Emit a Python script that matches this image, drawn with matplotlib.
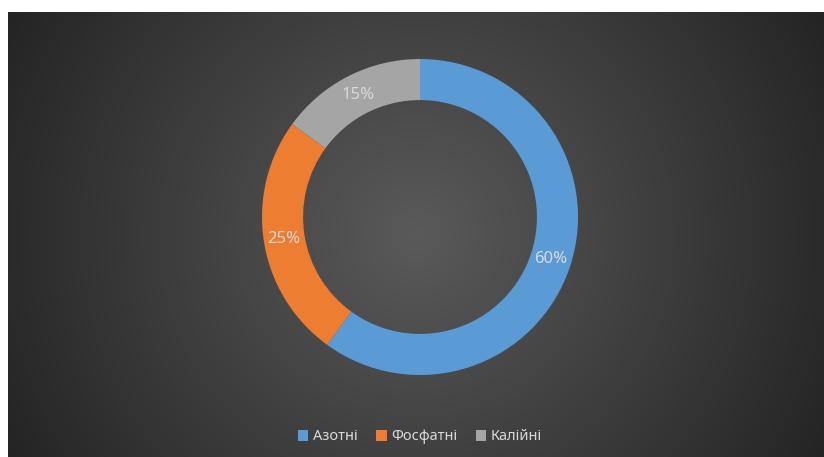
import numpy as np
import matplotlib
matplotlib.use('Agg')
import matplotlib.pyplot as plt

plt.rcParams['font.family'] = ['Noto Sans', 'DejaVu Sans']

# Chart data
categories = ['Азотні', 'Фосфатні', 'Калійні']
shares = [60, 25, 15]
colors = ['#5b9bd5', '#ed7d31', '#a5a5a5']

W, H = 824, 457
fig = plt.figure(figsize=(W / 100, H / 100), dpi=100, facecolor='white')

# Dark radial gradient background panel.
bg = fig.add_axes([8 / W, 0, (W - 8) / W, (H - 12) / H])
bw, bh = W - 8, H - 12
yy, xx = np.mgrid[0:bh, 0:bw]
r = np.hypot(xx - bw / 2, yy - bh / 2) / np.hypot(bw / 2, bh / 2)
shade = (0x5a - (0x5a - 0x24) * np.clip(r, 0, 1)) / 255
bg.imshow(np.dstack([shade] * 3), aspect='auto', interpolation='bilinear')
bg.axis('off')

# Donut chart.
cx, cy, rad = 420, H - 217, 158
ax = fig.add_axes([(cx - rad) / W, (cy - rad) / H, 2 * rad / W, 2 * rad / H])
wedges, texts, autotexts = ax.pie(
    shares, colors=colors, startangle=90, counterclock=False, radius=1,
    autopct='%d%%', pctdistance=0.87,
    wedgeprops=dict(width=0.26, edgecolor='none'),
    textprops=dict(color='#d9d9d9', fontsize=12))
ax.set_xlim(-1, 1)
ax.set_ylim(-1, 1)
ax.axis('off')

# Legend at the bottom.
fig.legend(wedges, categories, loc='center', bbox_to_anchor=(420 / W, 20 / H),
           ncol=3, frameon=False, fontsize=10.5, labelcolor='#d9d9d9',
           handlelength=0.7, handleheight=0.7, handletextpad=0.3,
           columnspacing=1.3)

fig.savefig('out.png', dpi=100, facecolor='white')
